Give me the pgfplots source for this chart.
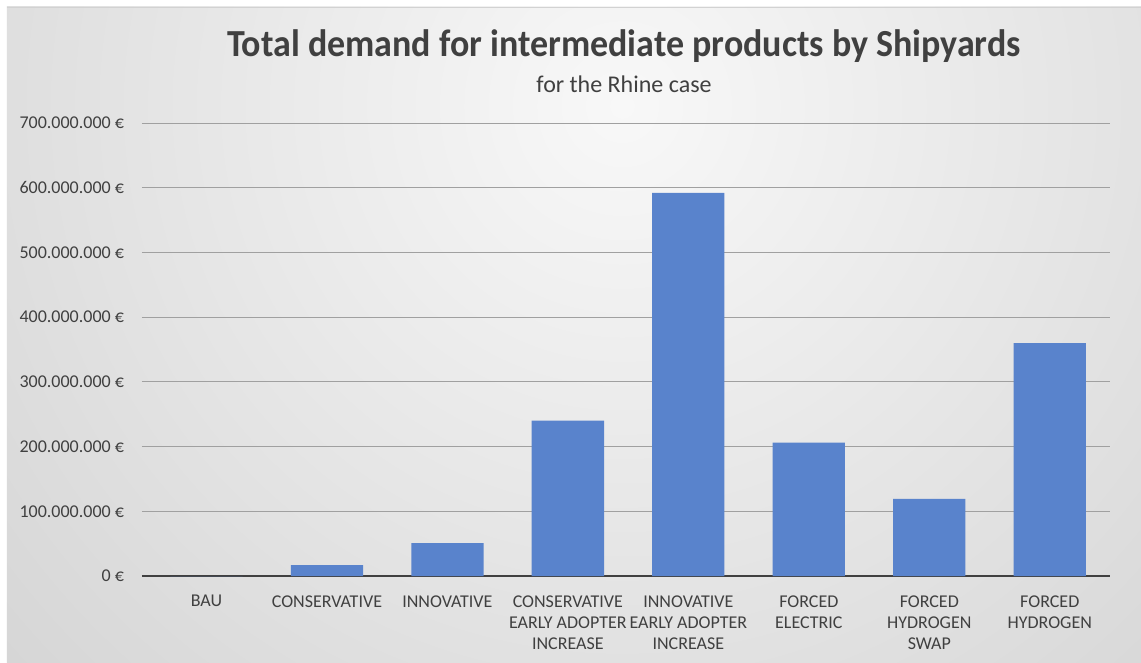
\documentclass[border=0pt]{standalone}
\usepackage{pgfplots}
\pgfplotsset{compat=1.18}
\usepackage{fontspec}
\setmainfont{Carlito}
\newfontfamily\titlefont[FakeStretch=0.94]{Carlito}
\definecolor{barblue}{RGB}{89,131,204}
\definecolor{txt}{RGB}{64,64,64}
\definecolor{gridc}{RGB}{160,160,160}
\definecolor{bgin}{RGB}{248,248,248}
\definecolor{bgout}{RGB}{174,174,174}
\begin{document}
\begin{tikzpicture}[x=0.75pt,y=0.75pt]
\fill[white] (-142,-86) rectangle (999,576);
\begin{scope}
\clip (-135,-86) rectangle (999,569);
\shade[inner color=bgin, outer color=bgout] (480,470) circle (1800);
\end{scope}
\draw[gray!35, line width=0.5pt] (-135,569) -- (999,569);
\begin{axis}[
  at={(0pt,0pt)}, anchor=south west,
  scale only axis, width=726pt, height=339.75pt,
  xmin=-0.535, xmax=7.5, ymin=0, ymax=700000000,
  ybar, bar width=0.6,
  axis lines=left, axis line style={-},
  y axis line style={draw=none},
  x axis line style={draw=txt, line width=1.6pt},
  ymajorgrids, grid style={gridc, line width=0.75pt},
  major tick length=0pt,
  scaled y ticks=false,
  ytick={0,100000000,200000000,300000000,400000000,500000000,600000000,700000000},
  yticklabels={0 €,100.000.000 €,200.000.000 €,300.000.000 €,400.000.000 €,500.000.000 €,600.000.000 €,700.000.000 €},
  yticklabel style={text=txt, font=\fontsize{13.5}{15}\selectfont, xshift=-10pt},
  xtick={0,1,2,3,4,5,6,7},
  xticklabels={BAU,CONSERVATIVE,INNOVATIVE,CONSERVATIVE\\EARLY ADOPTER\\INCREASE,INNOVATIVE\\EARLY ADOPTER\\INCREASE,FORCED\\ELECTRIC,FORCED\\HYDROGEN\\SWAP,FORCED\\HYDROGEN},
  xticklabel style={text=txt, align=center, font=\fontsize{13.5}{16}\selectfont, yshift=-11pt},
  clip=false,
]
\addplot[fill=barblue, draw=none] coordinates {
  (0,0) (1,17000000) (2,51000000) (3,240000000) (4,592000000)
  (5,206000000) (6,119000000) (7,360000000)
};
\end{axis}
\node[anchor=base, text=txt, font=\titlefont\fontsize{28.7}{32}\selectfont\bfseries] at (482,520) {Total demand for intermediate products by Shipyards};
\node[anchor=base, text=txt, font=\fontsize{18}{20}\selectfont] at (482,484) {for the Rhine case};
\pgfresetboundingbox
\useasboundingbox (-142,-86) rectangle (999,576);
\end{tikzpicture}
\end{document}
